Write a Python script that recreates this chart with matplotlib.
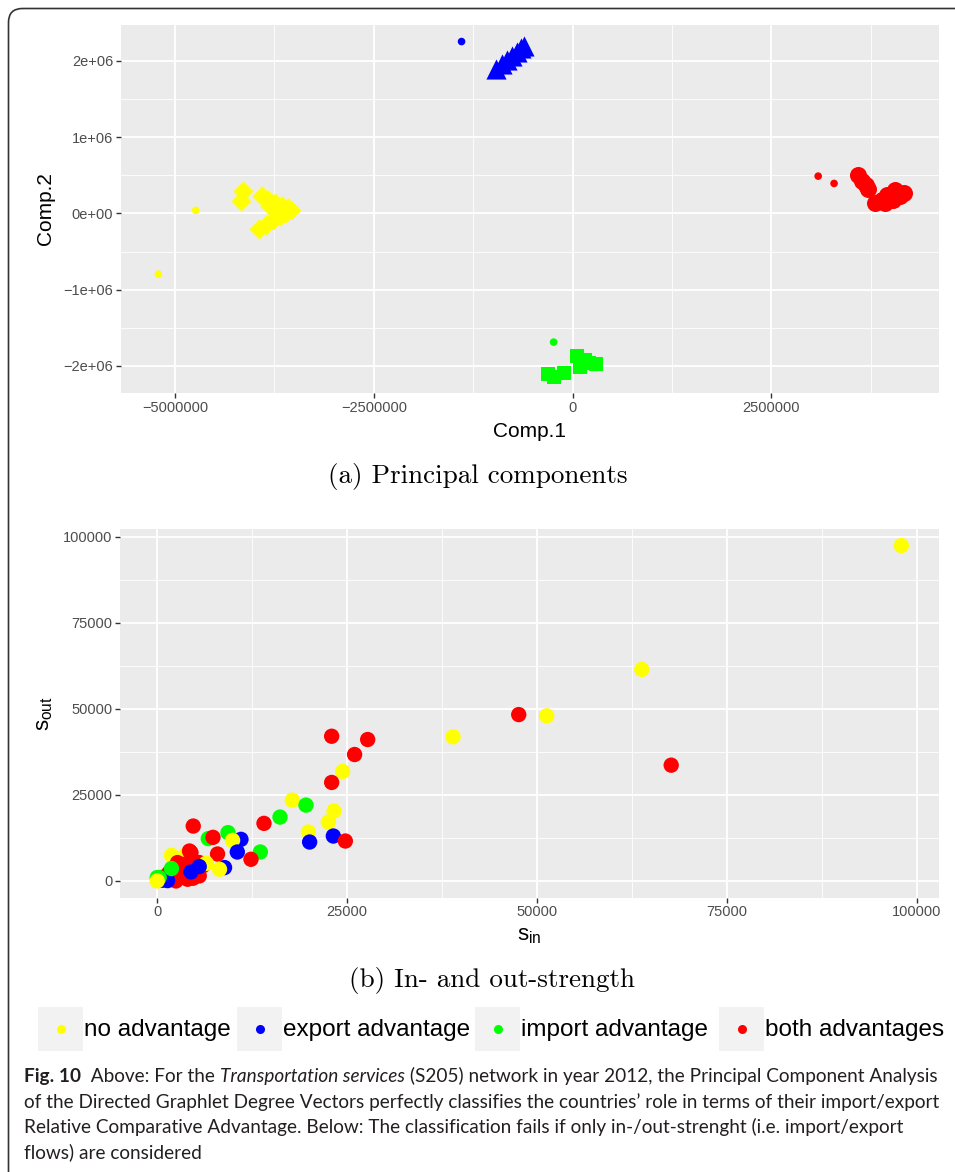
import numpy as np
import matplotlib.pyplot as plt
from matplotlib.patches import FancyBboxPatch, Rectangle
from matplotlib.ticker import FixedLocator

plt.rcParams['font.family'] = ['Liberation Sans', 'DejaVu Sans']
plt.rcParams['mathtext.fontset'] = 'custom'
plt.rcParams['mathtext.rm'] = 'Liberation Sans'

# ---- panel (a): principal components (Comp.1, Comp.2), per class ----
# big markers
no_adv_x = [-4.143e6, -4.176e6, -3.909e6, -3.833e6, -3.746e6, -3.658e6, -3.583e6, -3.545e6,
            -3.608e6, -3.683e6, -3.771e6, -3.858e6, -3.946e6, -3.720e6, -3.808e6]
no_adv_y = [0.288e6, 0.157e6, 0.223e6, 0.170e6, 0.131e6, 0.092e6, 0.066e6, 0.039e6,
            0.0, -0.039e6, -0.092e6, -0.157e6, -0.210e6, 0.052e6, 0.092e6]
exp_adv_x = [-0.957e6, -0.882e6, -0.819e6, -0.756e6, -0.694e6, -0.643e6, -0.606e6]
exp_adv_y = [1.887e6, 1.953e6, 2.005e6, 2.058e6, 2.110e6, 2.162e6, 2.189e6]
imp_adv_x = [-0.314e6, -0.238e6, -0.113e6, 0.050e6, 0.088e6, 0.213e6, 0.289e6, 0.163e6]
imp_adv_y = [-2.110e6, -2.149e6, -2.097e6, -1.874e6, -2.018e6, -1.966e6, -1.979e6, -1.926e6]
both_adv_x = [3.595e6, 3.638e6, 3.692e6, 3.720e6, 3.805e6, 3.892e6, 3.993e6, 4.093e6,
              4.168e6, 4.056e6, 3.955e6, 4.118e6, 4.030e6, 3.930e6]
both_adv_y = [0.498e6, 0.419e6, 0.367e6, 0.324e6, 0.131e6, 0.170e6, 0.210e6, 0.249e6,
              0.262e6, 0.301e6, 0.236e6, 0.223e6, 0.170e6, 0.131e6]
# small dots
small_x = [-5.21e6, -4.74e6, -1.396e6, -0.238e6, 3.09e6, 3.29e6]
small_y = [-0.795e6, 0.04e6, 2.253e6, -1.687e6, 0.489e6, 0.393e6]
small_cls = ['no', 'no', 'exp', 'imp', 'both', 'both']

pc_xticks = [-5000000, -2500000, 0, 2500000]
pc_xlabels = ['\u22125000000', '\u22122500000', '0', '2500000']
pc_yticks = [-2e6, -1e6, 0, 1e6, 2e6]
pc_ylabels = ['\u22122e+06', '\u22121e+06', '0e+00', '1e+06', '2e+06']

# ---- panel (b): in-strength vs out-strength ----
s_in = [97940, 63780, 47580, 51270, 67650, 38940, 22960, 27700, 25980, 24400,
        22960, 17780, 19580, 23270, 16160, 22520, 14050, 4740, 19890, 9310,
        23180, 24760, 20060, 11020, 9920, 6720, 7340, 7940, 10540, 13570,
        12340, 1880, 3780, 4440, 4250, 2670, 3560, 5310, 5970, 3330,
        4870, 5530, 3990, 2460, 1150, 1580, 4700, 5530,
        8860, 8200, 6450, 5530, 4440, 920, 530, 1360,
        1880, 260, 0, 0]
s_out = [97440, 61480, 48340, 47970, 33640, 41880, 42050, 41090, 36740, 31810,
         28620, 23490, 22040, 20300, 18560, 17110, 16730, 15950, 14210, 14040,
         13050, 11600, 11310, 12090, 11800, 12300, 12670, 7830, 8410, 8410,
         6290, 7450, 7740, 8240, 8700, 5340, 4840, 5340, 4350, 2440,
         3390, 1450, 490, 0, 1450, 2440, 780, 5340,
         3890, 3390, 5130, 4180, 2610, 290, 200, 100,
         3600, 990, 990, 0]
s_cls = ['no', 'no', 'both', 'no', 'both', 'no', 'both', 'both', 'both', 'no',
         'both', 'no', 'imp', 'no', 'imp', 'no', 'both', 'both', 'no', 'imp',
         'exp', 'both', 'exp', 'exp', 'no', 'imp', 'both', 'both', 'exp', 'imp',
         'both', 'no', 'no', 'both', 'both', 'both', 'both', 'both', 'both', 'both',
         'both', 'both', 'both', 'both', 'both', 'both', 'both', 'both',
         'exp', 'no', 'no', 'exp', 'exp', 'exp', 'exp', 'exp',
         'imp', 'imp', 'imp', 'no']

st_ticks = [0, 25000, 50000, 75000, 100000]
st_minor = [12500, 37500, 62500, 87500]

classes = ['no', 'exp', 'imp', 'both']
class_names = ['no advantage', 'export advantage', 'import advantage', 'both advantages']
colors = {'no': '#FFFF00', 'exp': '#0000FF', 'imp': '#00FF00', 'both': '#FF0000'}

W, H = 955, 1172
fig = plt.figure(figsize=(W / 100, H / 100), dpi=100)
fig.patch.set_facecolor('white')


def gg_axes(rect):
    ax = fig.add_axes(rect)
    ax.set_facecolor('#EBEBEB')
    for s in ax.spines.values():
        s.set_visible(False)
    ax.grid(which='major', color='white', lw=1.3)
    ax.grid(which='minor', color='white', lw=0.6)
    ax.set_axisbelow(True)
    ax.tick_params(which='major', length=3.5, width=1.0, color='#333333',
                   labelcolor='#4D4D4D', labelsize=10.5, pad=2)
    ax.tick_params(which='minor', length=0)
    return ax


# top panel
ax1 = gg_axes([121 / W, 1 - 393 / H, 818 / W, 368 / H])
ax1.scatter(no_adv_x, no_adv_y, marker='D', s=105, color=colors['no'], lw=0)
ax1.scatter(exp_adv_x, exp_adv_y, marker='^', s=210, color=colors['exp'], lw=0)
ax1.scatter(imp_adv_x, imp_adv_y, marker='s', s=115, color=colors['imp'], lw=0)
ax1.scatter(both_adv_x, both_adv_y, marker='o', s=150, color=colors['both'], lw=0)
ax1.scatter(small_x, small_y, marker='o', s=30, c=[colors[c] for c in small_cls], lw=0)
ax1.set_xlim(-5.68e6, 4.61e6)
ax1.set_ylim(-2.354e6, 2.47e6)
ax1.set_xticks(pc_xticks)
ax1.set_xticklabels(pc_xlabels)
ax1.set_yticks(pc_yticks)
ax1.set_yticklabels(pc_ylabels)
ax1.xaxis.set_minor_locator(FixedLocator([-3.75e6, -1.25e6, 1.25e6, 3.75e6]))
ax1.yaxis.set_minor_locator(FixedLocator([-1.5e6, -0.5e6, 0.5e6, 1.5e6]))
ax1.set_xlabel('Comp.1', fontsize=15, labelpad=5)
ax1.set_ylabel('Comp.2', fontsize=15, labelpad=6)

# bottom panel
ax2 = gg_axes([120 / W, 1 - 897.7 / H, 819 / W, 368.7 / H])
ax2.scatter(s_in, s_out, s=122, c=[colors[c] for c in s_cls], lw=0)
ax2.set_xlim(-4900, 102900)
ax2.set_ylim(-4870, 102270)
ax2.set_xticks(st_ticks)
ax2.set_yticks(st_ticks)
ax2.xaxis.set_minor_locator(FixedLocator(st_minor))
ax2.yaxis.set_minor_locator(FixedLocator(st_minor))
ax2.set_xlabel(r'$\mathregular{s_{in}}$', fontsize=16, labelpad=4)
ax2.set_ylabel(r'$\mathregular{s_{out}}$', fontsize=16, labelpad=6)

# overlay in pixel coordinates for frame, captions and legend
ov = fig.add_axes([0, 0, 1, 1], zorder=-1)
ov.set_xlim(0, W)
ov.set_ylim(H, 0)
ov.axis('off')
ov.add_patch(FancyBboxPatch((8.5, 8.5), 1100, 1300, boxstyle='round,pad=0,rounding_size=14',
                            fc='none', ec='#333333', lw=1.2))

ov.text(478, 476, '(a) Principal components', family='cmr10', fontsize=19.5,
        ha='center', va='center')
ov.text(492, 980, '(b) In- and out-strength', family='cmr10', fontsize=19.5,
        ha='center', va='center')

# legend
key_x = [38, 237, 475, 719]
for kx, c, name in zip(key_x, classes, class_names):
    ov.add_patch(Rectangle((kx, 1007), 45, 44, fc='#F2F2F2', ec='none'))
    ov.plot(kx + 22.5, 1029, 'o', ms=6.5, color=colors[c], mec='none')
    ov.text(kx + 46, 1030, name, fontsize=17.5, family='Liberation Sans',
            ha='left', va='center')

# figure caption
cap_font = 'Lato'
cap_size = 13.7
renderer = fig.canvas.get_renderer()
inv = ov.transData.inverted()


def put(x, y, s, **kw):
    t = ov.text(x, y, s, family=cap_font, fontsize=cap_size, va='baseline', ha='left',
                color='#231F20', **kw)
    bb = t.get_window_extent(renderer)
    return inv.transform((bb.x1, bb.y0))[0]


x = put(24, 1082, 'Fig. 10', weight='bold')
x = put(x, 1082, '  Above: For the ')
x = put(x, 1082, 'Transportation services', style='italic')
put(x, 1082, ' (S205) network in year 2012, the Principal Component Analysis')
put(24, 1108, 'of the Directed Graphlet Degree Vectors perfectly classifies the countries\u2019 '
    'role in terms of their import/export')
put(24, 1133, 'Relative Comparative Advantage. Below: The classification fails if only '
    'in-/out-strenght (i.e. import/export')
put(24, 1158, 'flows) are considered')

fig.savefig('out.png', dpi=100)
